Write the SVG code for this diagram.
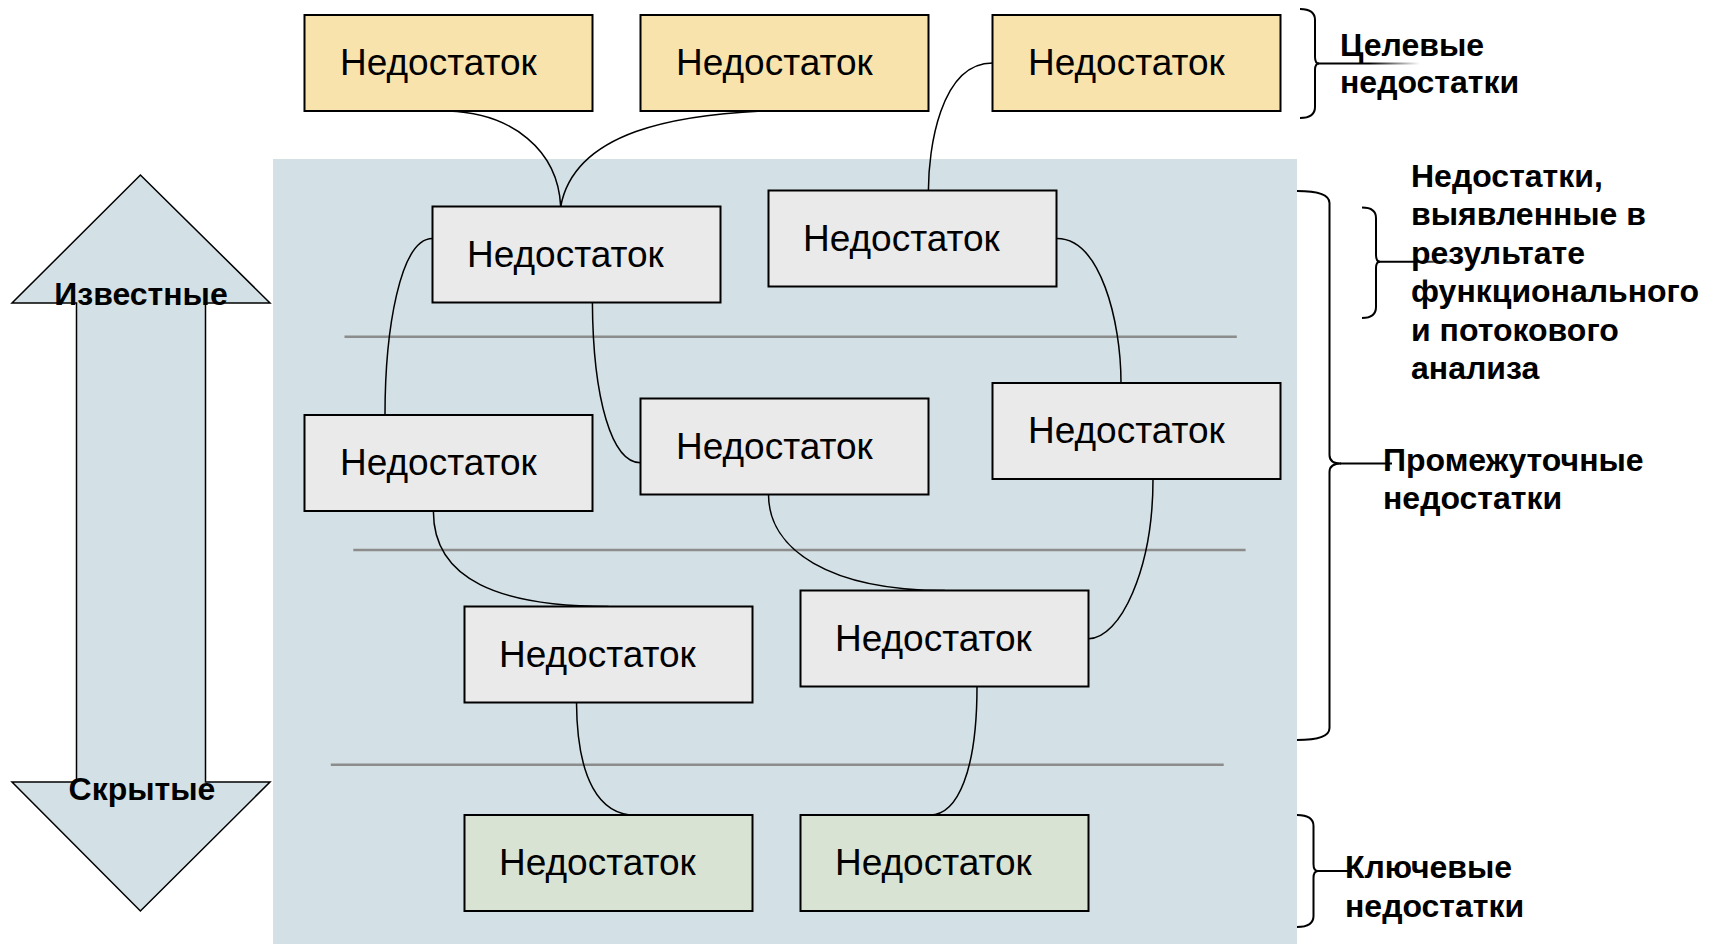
<svg xmlns="http://www.w3.org/2000/svg" width="1709" height="944" viewBox="0 0 1709 944">
<style>
  .box { stroke: #000; stroke-width: 2; }
  .target { fill: #F8E3AC; }
  .mid { fill: #EAEAEA; }
  .key { fill: #D9E3D3; }
  .bt { font-family: "Liberation Sans", Arial, sans-serif; font-size: 37px; fill: #000; }
  .lbl { font-family: "Liberation Sans", Arial, sans-serif; font-size: 32px; font-weight: bold; fill: #000; }
  .conn { fill: none; stroke: #000; stroke-width: 1.5; }
  .sep { stroke: #8c8c8c; stroke-width: 2.5; }
  .brace { fill: none; stroke: #000; stroke-width: 2; }
</style>
<defs>
  <linearGradient id="fade1" gradientUnits="userSpaceOnUse" x1="1318" y1="0" x2="1420" y2="0">
    <stop offset="0" stop-color="#000"/>
    <stop offset="0.5" stop-color="#000"/>
    <stop offset="1" stop-color="#000" stop-opacity="0"/>
  </linearGradient>
  <linearGradient id="fade2" gradientUnits="userSpaceOnUse" x1="1380" y1="0" x2="1462" y2="0">
    <stop offset="0" stop-color="#000"/>
    <stop offset="0.5" stop-color="#000"/>
    <stop offset="1" stop-color="#000" stop-opacity="0"/>
  </linearGradient>
</defs>
<rect width="1709" height="944" fill="#fff"/>
<rect id="panel" x="273" y="159" width="1024" height="785" fill="#D3E0E5"/>

<g id="axis">
  <polygon points="140.4,175 270,303 205.5,303 205.5,782 270,782 140.4,911 12,782 76.5,782 76.5,303 12,303" fill="#D3E0E5" stroke="#000" stroke-width="1.5" stroke-linejoin="miter"/>
  <text class="lbl" x="141" y="305" text-anchor="middle" font-size="33">Известные</text>
  <text class="lbl" x="142" y="800" text-anchor="middle" font-size="33">Скрытые</text>
</g>

<g id="separators">
  <line class="sep" x1="344.5" y1="336.7" x2="1236.8" y2="336.7"/>
  <line class="sep" x1="353.3" y1="550" x2="1245.6" y2="550"/>
  <line class="sep" x1="330.8" y1="764.7" x2="1223.7" y2="764.7"/>
</g>

<g id="connectors">
  <path class="conn" d="M 448 111 C 512 113 558 150 560.7 206.5"/>
  <path class="conn" d="M 762 111 C 680 115 575 130 560.7 206.5"/>
  <path class="conn" d="M 992.5 63 C 940 63 928.4 150 928.4 190.5"/>
  <path class="conn" d="M 432.5 238.5 C 400 238.5 385 330 385 415"/>
  <path class="conn" d="M 592.4 302.5 C 593 400 612 462.7 640.5 462.7"/>
  <path class="conn" d="M 1057 238.5 C 1100 238.5 1121 320 1121 383"/>
  <path class="conn" d="M 433.4 511 C 433 580 500 606.5 608.6 606.5"/>
  <path class="conn" d="M 768.5 494.5 C 768.5 550 830 590.5 945 590.5"/>
  <path class="conn" d="M 1153 479 C 1153 570 1120 638.7 1088.5 638.7"/>
  <path class="conn" d="M 576.5 702.5 C 577 780 600 815 635 815"/>
  <path class="conn" d="M 977 686.5 C 977 770 958 815 930 815"/>
</g>

<g id="n-t1"><rect class="box target" x="304.5" y="15" width="288" height="96"/><text class="bt" x="340" y="75">Недостаток</text></g>
<g id="n-t2"><rect class="box target" x="640.5" y="15" width="288" height="96"/><text class="bt" x="676" y="75">Недостаток</text></g>
<g id="n-t3"><rect class="box target" x="992.5" y="15" width="288" height="96"/><text class="bt" x="1028" y="75">Недостаток</text></g>

<g id="n-a"><rect class="box mid" x="432.5" y="206.5" width="288" height="96"/><text class="bt" x="467" y="266.5">Недостаток</text></g>
<g id="n-b"><rect class="box mid" x="768.5" y="190.5" width="288" height="96"/><text class="bt" x="803" y="250.5">Недостаток</text></g>
<g id="n-c"><rect class="box mid" x="304.5" y="415" width="288" height="96"/><text class="bt" x="340" y="475">Недостаток</text></g>
<g id="n-d"><rect class="box mid" x="640.5" y="398.5" width="288" height="96"/><text class="bt" x="676" y="458.5">Недостаток</text></g>
<g id="n-e"><rect class="box mid" x="992.5" y="383" width="288" height="96"/><text class="bt" x="1028" y="443">Недостаток</text></g>
<g id="n-f"><rect class="box mid" x="464.5" y="606.5" width="288" height="96"/><text class="bt" x="499" y="666.5">Недостаток</text></g>
<g id="n-g"><rect class="box mid" x="800.5" y="590.5" width="288" height="96"/><text class="bt" x="835" y="650.5">Недостаток</text></g>

<g id="n-h"><rect class="box key" x="464.5" y="815" width="288" height="96"/><text class="bt" x="499" y="875">Недостаток</text></g>
<g id="n-i"><rect class="box key" x="800.5" y="815" width="288" height="96"/><text class="bt" x="835" y="875">Недостаток</text></g>

<g id="legend-target">
  <path class="brace" d="M 1300 9 Q 1315 9 1315 20 V 57 Q 1315 63.5 1319 63.5 Q 1315 63.5 1315 70 V 107 Q 1315 118 1300 118"/>
  <line x1="1318" y1="63.5" x2="1420" y2="63.5" stroke="url(#fade1)" stroke-width="2"/>
  <text class="lbl" x="1340" y="56">Целевые</text>
  <text class="lbl" x="1340" y="93">недостатки</text>
</g>

<g id="legend-analysis">
  <path class="brace" d="M 1362 207.5 Q 1376 207.5 1376 218 V 255 Q 1376 261.7 1380 261.7 Q 1376 261.7 1376 268 V 307 Q 1376 318 1362 318"/>
  <line x1="1379" y1="261.7" x2="1462" y2="261.7" stroke="url(#fade2)" stroke-width="2"/>
  <text class="lbl" x="1411" y="187">Недостатки,</text>
  <text class="lbl" x="1411" y="225.4">выявленные в</text>
  <text class="lbl" x="1411" y="263.8">результате</text>
  <text class="lbl" x="1411" y="302.2">функционального</text>
  <text class="lbl" x="1411" y="340.6">и потокового</text>
  <text class="lbl" x="1411" y="379">анализа</text>
</g>

<g id="legend-mid">
  <path class="brace" d="M 1297 191 Q 1329.5 191 1329.5 203 V 455 Q 1329.5 463.5 1341 463.5 Q 1329.5 463.5 1329.5 472 V 728 Q 1329.5 740 1297 740"/>
  <line x1="1340" y1="463.5" x2="1392" y2="463.5" stroke="#000" stroke-width="2"/>
  <text class="lbl" x="1383" y="471">Промежуточные</text>
  <text class="lbl" x="1383" y="509">недостатки</text>
</g>

<g id="legend-key">
  <path class="brace" d="M 1297 815 Q 1313.5 815 1313.5 826 V 864 Q 1313.5 871 1318 871 Q 1313.5 871 1313.5 878 V 916 Q 1313.5 927 1297 927"/>
  <line x1="1317" y1="871" x2="1352" y2="871" stroke="#000" stroke-width="2"/>
  <text class="lbl" x="1345" y="878">Ключевые</text>
  <text class="lbl" x="1345" y="917">недостатки</text>
</g>
</svg>
